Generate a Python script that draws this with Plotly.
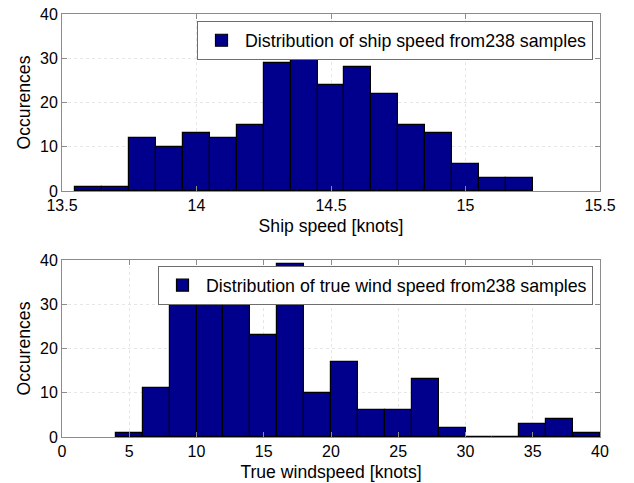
import plotly.graph_objects as go
from plotly.subplots import make_subplots

# Ship speed histogram (bin width 0.1 knots)
ship_bin_centers = [13.6, 13.7, 13.8, 13.9, 14.0, 14.1, 14.2, 14.3, 14.4,
                    14.5, 14.6, 14.7, 14.8, 14.9, 15.0, 15.1, 15.2]
ship_counts = [1, 1, 12, 10, 13, 12, 15, 29, 31, 24, 28, 22, 15, 13, 6, 3, 3]

# True wind speed histogram (bin width 2 knots)
wind_bin_centers = [5, 7, 9, 11, 13, 15, 17, 19, 21, 23, 25, 27, 29, 31, 33, 35, 37, 39]
wind_counts = [1, 11, 34, 35, 33, 23, 39, 10, 17, 6, 6, 13, 2, 0, 0, 3, 4, 1]

ship_label = "Distribution of ship speed from238 samples"
wind_label = "Distribution of true wind speed from238 samples"

bar_color = "rgb(0,0,140)"
font_family = "Liberation Sans, Arial, sans-serif"

fig = make_subplots(rows=2, cols=1, vertical_spacing=0.1632)

fig.add_trace(go.Bar(x=ship_bin_centers, y=ship_counts, width=0.1,
                     marker=dict(color=bar_color, line=dict(color="black", width=1.2)),
                     name=ship_label, legend="legend"), row=1, col=1)
fig.add_trace(go.Bar(x=wind_bin_centers, y=wind_counts, width=2,
                     marker=dict(color=bar_color, line=dict(color="black", width=1.2)),
                     name=wind_label, legend="legend2"), row=2, col=1)

axis_common = dict(
    automargin=False,
    showline=True, mirror="ticks", linecolor="rgb(140,140,140)", linewidth=1,
    ticks="inside", ticklen=5, tickcolor="rgb(140,140,140)",
    showgrid=True, gridcolor="rgb(230,230,230)", griddash="dot", gridwidth=1,
    zeroline=False, tickfont=dict(size=16, color="black", family=font_family),
    title_font=dict(size=17.6, color="black", family=font_family),
)

fig.update_xaxes(**axis_common)
fig.update_yaxes(**axis_common)

fig.update_xaxes(range=[13.5, 15.5], tickvals=[13.5, 14, 14.5, 15, 15.5],
                 ticktext=["13.5", "14", "14.5", "15", "15.5"],
                 title_text="Ship speed [knots]", title_standoff=6, row=1, col=1)
fig.update_xaxes(range=[0, 40], tickvals=[0, 5, 10, 15, 20, 25, 30, 35, 40],
                 title_text="True windspeed [knots]", title_standoff=6, row=2, col=1)
fig.update_yaxes(range=[0, 40], tickvals=[0, 10, 20, 30, 40],
                 title_text="Occurences", title_standoff=4, row=1, col=1)
fig.update_yaxes(range=[0, 40], tickvals=[0, 10, 20, 30, 40],
                 title_text="Occurences", title_standoff=4, row=2, col=1)

legend_common = dict(
    xanchor="right", yanchor="top", bgcolor="white",
    bordercolor="rgb(110,110,110)", borderwidth=1,
    font=dict(size=17.8, color="black", family=font_family),
    itemwidth=37, tracegroupgap=0,
)

fig.update_layout(
    width=634, height=483,
    margin=dict(l=62, r=34, t=14, b=46),
    paper_bgcolor="white", plot_bgcolor="white",
    bargap=0, showlegend=True,
    font=dict(family=font_family, size=16, color="black"),
    legend=dict(x=0.987, y=0.983, **legend_common),
    legend2=dict(x=0.987, y=0.404, **legend_common),
)

fig.write_html("out.html",
               config={"displayModeBar": False},
               post_script="document.body.style.margin='0';document.body.style.overflow='hidden';")
